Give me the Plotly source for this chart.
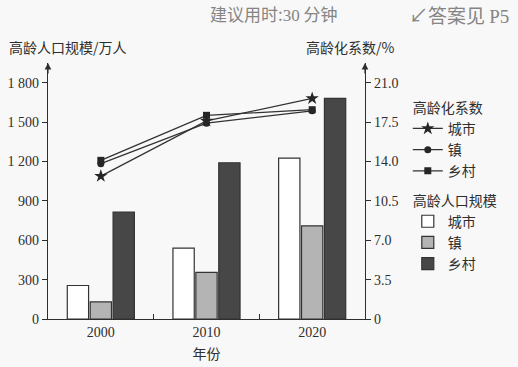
import plotly.graph_objects as go

years = ["2000", "2010", "2020"]
pop_city = [255, 540, 1225]
pop_town = [130, 355, 710]
pop_rural = [815, 1190, 1680]
coef_city = [12.7, 17.6, 19.6]
coef_town = [13.8, 17.4, 18.5]
coef_rural = [14.1, 18.1, 18.6]
left_ticks = [0, 300, 600, 900, 1200, 1500, 1800]
left_labels = ["0", "300", "600", "900", "1 200", "1 500", "1 800"]
right_ticks = [0, 3.5, 7.0, 10.5, 14.0, 17.5, 21.0]
right_labels = ["0", "3.5", "7.0", "10.5", "14.0", "17.5", "21.0"]

SERIF = "Liberation Serif, Times New Roman, serif"
CJK = "Noto Sans CJK SC, sans-serif"
INK = "#2e2e2e"

fig = go.Figure()

line_styles = [("城市", coef_city, "star"), ("镇", coef_town, "circle"), ("乡村", coef_rural, "square")]
for i, (name, vals, sym) in enumerate(line_styles):
    fig.add_trace(go.Scatter(
        x=years, y=vals, yaxis="y2", name=name, mode="lines+markers",
        line=dict(color="#333333", width=1.3),
        marker=dict(symbol=sym, size=10 if sym == "star" else 7, color="#262626"),
        legendgroup="coef",
        legendgrouptitle=dict(text="高龄化系数", font=dict(family=CJK, size=14, color=INK)) if i == 0 else None,
    ))

bar_styles = [("城市", pop_city, "#ffffff"), ("镇", pop_town, "#b4b4b4"), ("乡村", pop_rural, "#474747")]
for i, (name, vals, col) in enumerate(bar_styles):
    fig.add_trace(go.Bar(
        x=years, y=vals, name=name, marker=dict(color=col, line=dict(color="#333333", width=1.2)),
        legendgroup="pop",
        legendgrouptitle=dict(text="高龄人口规模", font=dict(family=CJK, size=14, color=INK)) if i == 0 else None,
    ))

fig.update_layout(
    width=518, height=367,
    margin=dict(l=48, r=153, t=63, b=48, autoexpand=False),
    paper_bgcolor="#f8f8f8", plot_bgcolor="#f8f8f8",
    barmode="group", bargap=0.35, bargroupgap=0.07,
    font=dict(family=SERIF, size=14, color=INK),
    showlegend=True,
    legend=dict(x=1.135, y=0.888, xanchor="left", yanchor="top",
                traceorder="grouped", tracegroupgap=8, itemwidth=30,
                font=dict(family=CJK, size=14, color=INK), bgcolor="rgba(0,0,0,0)"),
    xaxis=dict(type="category", showline=True, linecolor=INK, linewidth=1.2,
               ticks="inside", tickson="boundaries", ticklen=5, tickcolor=INK,
               showgrid=False, tickfont=dict(family=SERIF, size=14, color=INK),
               title=dict(text="年份", font=dict(family=CJK, size=14, color=INK), standoff=10),
               range=[-0.5, 2.5]),
    yaxis=dict(range=[0, 1950], tickvals=left_ticks, ticktext=left_labels,
               showline=True, linecolor=INK, linewidth=1.2, ticks="outside", ticklen=5,
               tickcolor=INK, showgrid=False, zeroline=False,
               tickfont=dict(family=SERIF, size=14, color=INK)),
    yaxis2=dict(range=[0, 22.75], tickvals=right_ticks, ticktext=right_labels,
                overlaying="y", side="right", showline=True, linecolor=INK, linewidth=1.2,
                ticks="outside", ticklen=5, tickcolor=INK, showgrid=False, zeroline=False,
                tickfont=dict(family=SERIF, size=14, color=INK)),
)

# axis titles and arrowheads
fig.add_annotation(text="高龄人口规模/万人", xref="paper", yref="paper", x=-0.13, y=1.0,
                   yshift=16, xanchor="left", yanchor="middle", showarrow=False,
                   font=dict(family=CJK, size=14, color=INK))
fig.add_annotation(text="高龄化系数/%", xref="paper", yref="paper", x=1.0, y=1.0,
                   yshift=16, xshift=31, xanchor="right", yanchor="middle", showarrow=False,
                   font=dict(family=CJK, size=14, color=INK))
for xp in (0, 1):
    fig.add_annotation(xref="paper", yref="paper", x=xp, y=1.0, ax=0, ay=12, text="",
                       showarrow=True, arrowhead=2, arrowsize=1.1, arrowwidth=1.2, arrowcolor=INK)

# page header from the scanned book page
fig.add_annotation(text="建议用时:<span style='font-family:Liberation Serif'>30</span> 分钟",
                   xref="paper", yref="paper", x=0.505, y=1.0, yshift=50, xanchor="left",
                   yanchor="middle", showarrow=False,
                   font=dict(family=CJK, size=17, color="#858585"))
fig.add_annotation(text="↙答案见 <span style='font-family:Liberation Serif'>P5</span>",
                   xref="paper", yref="paper", x=1.46, y=1.0, yshift=49, xanchor="right",
                   yanchor="middle", showarrow=False,
                   font=dict(family=CJK, size=19, color="#858585"))

fig.write_html("out.html", config={"displayModeBar": False},
               post_script="document.body.style.margin='0';")
